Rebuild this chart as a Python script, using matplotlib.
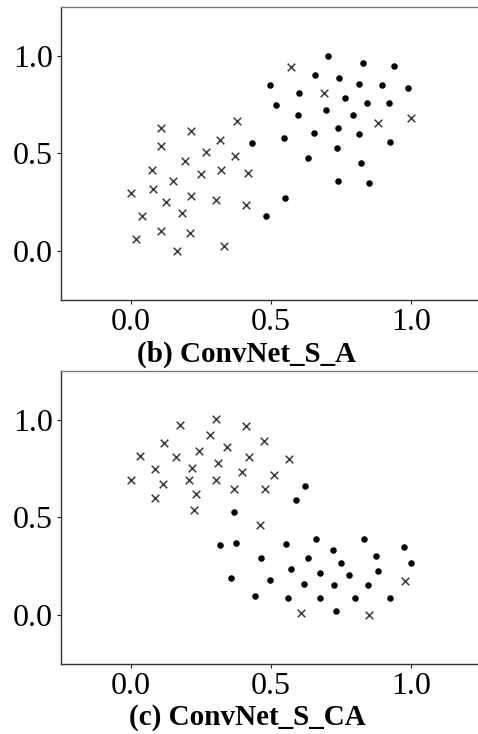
import matplotlib
matplotlib.use("Agg")
import matplotlib.pyplot as plt

# Panel (b) ConvNet_S_A
b_cross_x = [0.0, 0.037, 0.018, 0.108, 0.107, 0.073, 0.077, 0.123, 0.108, 0.151, 0.162, 0.182, 0.192, 0.212, 0.212, 0.21, 0.251, 0.268, 0.302, 0.318, 0.321, 0.331, 0.371, 0.378, 0.409, 0.417, 0.572, 0.688, 0.883, 1.001]
b_cross_y = [0.295, 0.18, 0.063, 0.632, 0.535, 0.416, 0.319, 0.252, 0.102, 0.359, 0.0, 0.196, 0.46, 0.615, 0.283, 0.094, 0.394, 0.506, 0.259, 0.567, 0.414, 0.026, 0.486, 0.664, 0.235, 0.399, 0.94, 0.811, 0.656, 0.683]
b_dot_x = [0.431, 0.482, 0.496, 0.516, 0.545, 0.549, 0.6, 0.597, 0.631, 0.652, 0.658, 0.698, 0.704, 0.738, 0.735, 0.738, 0.743, 0.765, 0.793, 0.816, 0.816, 0.82, 0.83, 0.844, 0.849, 0.895, 0.923, 0.926, 0.939, 0.988]
b_dot_y = [0.555, 0.181, 0.848, 0.748, 0.578, 0.273, 0.807, 0.698, 0.477, 0.606, 0.903, 0.721, 0.998, 0.627, 0.528, 0.356, 0.886, 0.782, 0.695, 0.857, 0.598, 0.453, 0.964, 0.756, 0.349, 0.852, 0.756, 0.557, 0.949, 0.833]

# Panel (c) ConvNet_S_CA
c_cross_x = [0.0, 0.03, 0.086, 0.086, 0.114, 0.117, 0.16, 0.173, 0.207, 0.216, 0.232, 0.226, 0.244, 0.281, 0.302, 0.304, 0.311, 0.344, 0.368, 0.396, 0.411, 0.421, 0.462, 0.478, 0.476, 0.511, 0.564, 0.607, 0.851, 0.98]
c_cross_y = [0.692, 0.815, 0.747, 0.6, 0.672, 0.882, 0.809, 0.973, 0.692, 0.752, 0.617, 0.54, 0.839, 0.923, 1.002, 0.692, 0.776, 0.86, 0.643, 0.733, 0.969, 0.809, 0.462, 0.644, 0.889, 0.718, 0.798, 0.009, 0.0, 0.173]
c_dot_x = [0.318, 0.366, 0.373, 0.358, 0.442, 0.465, 0.496, 0.555, 0.561, 0.57, 0.589, 0.622, 0.616, 0.631, 0.662, 0.675, 0.674, 0.723, 0.725, 0.731, 0.751, 0.778, 0.799, 0.834, 0.845, 0.874, 0.881, 0.926, 0.977, 1.0]
c_dot_y = [0.359, 0.525, 0.369, 0.19, 0.097, 0.294, 0.178, 0.361, 0.085, 0.236, 0.591, 0.658, 0.159, 0.289, 0.39, 0.217, 0.089, 0.332, 0.152, 0.021, 0.268, 0.205, 0.085, 0.39, 0.152, 0.301, 0.227, 0.089, 0.349, 0.268]

titles = ["(b) ConvNet_S_A", "(c) ConvNet_S_CA"]
ticks = [0.0, 0.5, 1.0]
tick_labels = ["0.0", "0.5", "1.0"]

plt.rcParams['font.family'] = ['Liberation Serif', 'DejaVu Serif']

fig = plt.figure(figsize=(4.78, 7.34), dpi=100)
panels = [
    (b_cross_x, b_cross_y, b_dot_x, b_dot_y, [0.1283, 0.5913, 0.8776, 0.3996], 0.499),
    (c_cross_x, c_cross_y, c_dot_x, c_dot_y, [0.1283, 0.0958, 0.8776, 0.3988], 0.004),
]
for (cx, cy, dx, dy, rect, ty), title in zip(panels, titles):
    ax = fig.add_axes(rect)
    ax.scatter(cx, cy, marker='x', s=30, c='#3c3c3c', linewidths=1.1)
    ax.scatter(dx, dy, marker='o', s=22, c='black', linewidths=0)
    ax.set_xlim(-0.25, 1.25)
    ax.set_ylim(-0.25, 1.25)
    ax.set_xticks(ticks)
    ax.set_xticklabels(tick_labels)
    ax.set_yticks(ticks)
    ax.set_yticklabels(tick_labels)
    ax.tick_params(labelsize=23, length=3, width=0.8, pad=3, colors='#222222', labelcolor='black')
    for sp in ax.spines.values():
        sp.set_linewidth(1.0)
        sp.set_color('#333333')
    ax.spines['top'].set_color('#777777')
    fig.text(247 / 478, ty, title, ha='center', va='bottom', fontsize=21, fontweight='bold')

fig.savefig('out.png', dpi=100)
